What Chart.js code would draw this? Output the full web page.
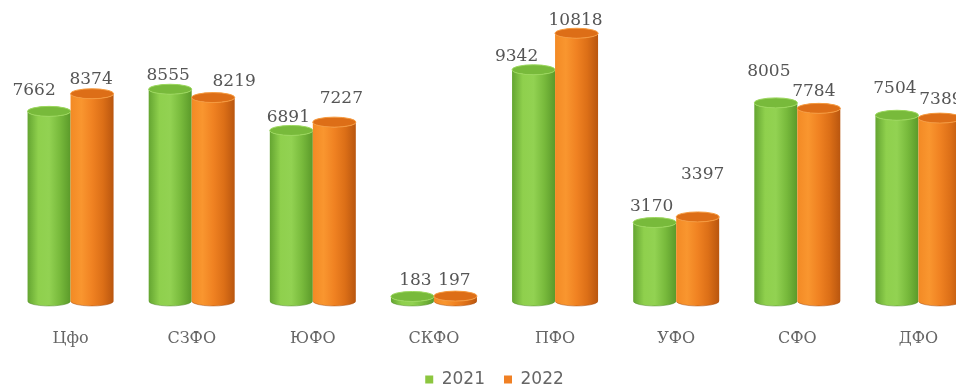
<!DOCTYPE html>
<html>
<head>
<meta charset="utf-8">
<script src="https://cdn.jsdelivr.net/npm/chart.js@4"></script>
<style>
  html, body { margin: 0; padding: 0; background: #fff; overflow: hidden; }
  #wrap { width: 980px; height: 390px; }
</style>
</head>
<body>
<div id="wrap"><canvas id="chart"></canvas></div>
<script>
// Данные
const okruga = ['Цфо', 'СЗФО', 'ЮФО', 'СКФО', 'ПФО', 'УФО', 'СФО', 'ДФО'];
const years = ['2021', '2022'];
const values2021 = [7662, 8555, 6891, 183, 9342, 3170, 8005, 7504];
const values2022 = [8374, 8219, 7227, 197, 10818, 3397, 7784, 7389];

// сдвиги подписей (как в оригинале они разбросаны вручную)
const labelShift = [
    [[-15, -21], [-2, -14], [-3, -13], [3, -16], [-17, -13], [-3, -16], [-7, -31], [-2, -27]],
    [[-1, -14], [21, -16], [7, -24], [-1, -16], [-1, -13], [5, -42], [-5, -17], [1, -19]]
];

const cylColors = [
    { stops: ['#64a531', '#8fd04d', '#92d252', '#78ba3c', '#5b9a2a'], top: '#78ba3b', rim: '#9bd75c', bottom: '#4f8a25', legend: '#8cc63f' },
    { stops: ['#f38a25', '#f9962f', '#f08222', '#dc6f17', '#b9560f'], top: '#dd6e17', rim: '#f59a3e', bottom: '#a84c0c', legend: '#f08024' }
];

const RY = 5;

const cylinderPlugin = {
    id: 'cylinders',
    afterDatasetsDraw(chart) {
        const ctx = chart.ctx;
        chart.data.datasets.forEach((ds, di) => {
            const meta = chart.getDatasetMeta(di);
            const col = cylColors[di];
            meta.data.forEach((bar, i) => {
                const { x, y, base, width } = bar.getProps(['x', 'y', 'base', 'width'], true);
                const rx = width / 2;
                const left = x - rx, right = x + rx;

                // тело цилиндра
                const grad = ctx.createLinearGradient(left, 0, right, 0);
                col.stops.forEach((c, k) => grad.addColorStop(k / (col.stops.length - 1), c));
                ctx.save();
                ctx.beginPath();
                ctx.moveTo(left, y);
                ctx.lineTo(left, base);
                ctx.ellipse(x, base, rx, RY, 0, Math.PI, 0, true);
                ctx.lineTo(right, y);
                ctx.ellipse(x, y, rx, RY, 0, 0, Math.PI, false);
                ctx.closePath();
                ctx.fillStyle = grad;
                ctx.fill();

                // нижняя тень
                ctx.beginPath();
                ctx.ellipse(x, base, rx, RY, 0, 0.15, Math.PI - 0.15, false);
                ctx.strokeStyle = col.bottom;
                ctx.globalAlpha = 0.5;
                ctx.lineWidth = 1;
                ctx.stroke();
                ctx.globalAlpha = 1;

                // крышка
                ctx.beginPath();
                ctx.ellipse(x, y, rx, RY, 0, 0, Math.PI * 2);
                ctx.fillStyle = col.top;
                ctx.fill();
                ctx.strokeStyle = col.rim;
                ctx.lineWidth = 1;
                ctx.stroke();

                // подпись значения
                const sh = labelShift[di][i];
                ctx.font = '17px "DejaVu Serif", serif';
                ctx.fillStyle = '#555';
                ctx.textAlign = 'center';
                ctx.textBaseline = 'middle';
                ctx.fillText(ds.data[i], x + sh[0], y + sh[1]);
                ctx.restore();
            });
        });
    }
};

new Chart(document.getElementById('chart'), {
    type: 'bar',
    data: {
        labels: okruga,
        datasets: [
            { label: years[0], data: values2021, backgroundColor: 'rgba(0,0,0,0)', borderWidth: 0 },
            { label: years[1], data: values2022, backgroundColor: 'rgba(0,0,0,0)', borderWidth: 0 }
        ]
    },
    options: {
        responsive: true,
        maintainAspectRatio: false,
        animation: false,
        datasets: { bar: { categoryPercentage: 0.71, barPercentage: 1.0 } },
        layout: { padding: { left: 10, right: 1, top: 4, bottom: -8 } },
        scales: {
            x: {
                grid: { display: false, drawTicks: false },
                border: { display: false },
                afterFit(scale) { scale.height = 51; },
                ticks: {
                    color: '#666',
                    padding: 28,
                    font: { family: '"DejaVu Serif", serif', size: 16 }
                }
            },
            y: { display: false, min: 0, max: 12000 }
        },
        plugins: {
            legend: {
                position: 'bottom',
                labels: {
                    boxWidth: 8,
                    boxHeight: 8,
                    padding: 19,
                    color: '#666',
                    font: { family: '"DejaVu Sans", sans-serif', size: 17 },
                    generateLabels: () => years.map((y, k) => ({
                        text: y,
                        fillStyle: cylColors[k].legend,
                        strokeStyle: cylColors[k].legend,
                        lineWidth: 0,
                        fontColor: '#666',
                        datasetIndex: k
                    }))
                }
            },
            tooltip: { enabled: false }
        }
    },
    plugins: [cylinderPlugin]
});
</script>
</body>
</html>
